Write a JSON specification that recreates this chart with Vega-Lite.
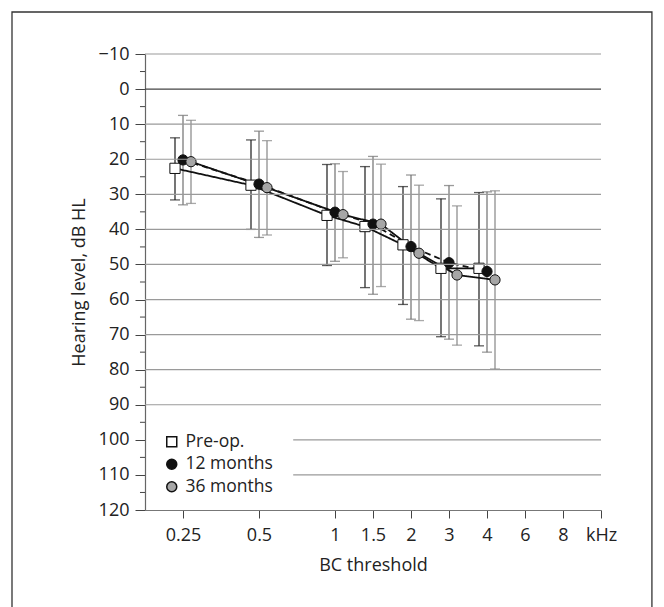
{
  "$schema": "https://vega.github.io/schema/vega-lite/v6.json",
  "autosize": {"type": "none"},
  "padding": {"left": 145, "top": 54, "right": 63, "bottom": 97},
  "width": 456,
  "height": 456,
  "background": "white",
  "config": {
    "view": {"stroke": null},
    "font": "Open Sans"
  },
  "resolve": {"scale": {"x": "independent"}},
  "layer": [
    {
      "data": {"values": [
        {"freq": "0.25", "group": "Pre-op.", "mean": 22.6, "lo": 13.9, "hi": 31.6},
        {"freq": "0.25", "group": "12 months", "mean": 20.2, "lo": 7.5, "hi": 33.0},
        {"freq": "0.25", "group": "36 months", "mean": 20.7, "lo": 8.9, "hi": 32.6},
        {"freq": "0.5", "group": "Pre-op.", "mean": 27.4, "lo": 14.5, "hi": 40.0},
        {"freq": "0.5", "group": "12 months", "mean": 27.1, "lo": 12.0, "hi": 42.3},
        {"freq": "0.5", "group": "36 months", "mean": 28.1, "lo": 14.7, "hi": 41.6},
        {"freq": "1", "group": "Pre-op.", "mean": 36.0, "lo": 21.5, "hi": 50.3},
        {"freq": "1", "group": "12 months", "mean": 35.1, "lo": 21.3, "hi": 49.1},
        {"freq": "1", "group": "36 months", "mean": 35.8, "lo": 23.5, "hi": 48.1},
        {"freq": "1.5", "group": "Pre-op.", "mean": 39.2, "lo": 22.1, "hi": 56.6},
        {"freq": "1.5", "group": "12 months", "mean": 38.5, "lo": 19.2, "hi": 58.5},
        {"freq": "1.5", "group": "36 months", "mean": 38.5, "lo": 21.4, "hi": 56.3},
        {"freq": "2", "group": "Pre-op.", "mean": 44.4, "lo": 27.8, "hi": 61.4},
        {"freq": "2", "group": "12 months", "mean": 44.9, "lo": 24.5, "hi": 65.6},
        {"freq": "2", "group": "36 months", "mean": 46.8, "lo": 27.4, "hi": 66.0},
        {"freq": "3", "group": "Pre-op.", "mean": 51.1, "lo": 31.3, "hi": 70.6},
        {"freq": "3", "group": "12 months", "mean": 49.5, "lo": 27.5, "hi": 71.3},
        {"freq": "3", "group": "36 months", "mean": 53.0, "lo": 33.3, "hi": 73.0},
        {"freq": "4", "group": "Pre-op.", "mean": 51.1, "lo": 29.5, "hi": 73.2},
        {"freq": "4", "group": "12 months", "mean": 52.0, "lo": 29.3, "hi": 75.0},
        {"freq": "4", "group": "36 months", "mean": 54.4, "lo": 29.0, "hi": 79.8}
      ]},
      "encoding": {
        "x": {"field": "freq", "type": "ordinal", "title": "BC threshold",
          "scale": {"type": "point", "domain": ["_0", "0.25", "_1", "0.5", "_2", "1", "1.5", "2", "3", "4", "6", "8", "kHz"], "padding": 0},
          "axis": {"values": ["0.25", "0.5", "1", "1.5", "2", "3", "4", "6", "8", "kHz"], "labelAngle": 0, "tickSize": 8, "labelPadding": 8,
            "grid": false, "domainColor": "#777", "domainWidth": 1.2, "tickColor": "#444", "tickWidth": 1,
            "labelFont": "Open Sans", "labelFontSize": 18, "labelColor": "#222",
            "titleFont": "Open Sans", "titleFontSize": 18, "titleColor": "#222", "titleFontWeight": "normal", "titlePadding": 12}},
        "xOffset": {"field": "group", "type": "nominal", "scale": {"type": "point", "domain": ["Pre-op.", "12 months", "36 months"], "range": [-8, 8], "padding": 0}}
      },
      "layer": [
        {
          "mark": {"type": "rule", "strokeWidth": 1.2},
          "encoding": {
            "y": {"field": "lo", "type": "quantitative", "title": "Hearing level, dB HL", "scale": {"domain": [-10, 120], "reverse": true, "nice": false, "zero": false},
              "axis": {"values": [-10, 0, 10, 20, 30, 40, 50, 60, 70, 80, 90, 100, 110, 120],
                "tickCount": 100,
                "labelOverlap": false,
                "tickSize": 10,
                "grid": false, "domainColor": "#666", "domainWidth": 1.2, "tickColor": "#444", "tickWidth": 1,
                "labelFont": "Open Sans", "labelFontSize": 18, "labelColor": "#222", "labelPadding": 6,
                "titleFont": "Open Sans", "titleFontSize": 18, "titleColor": "#222", "titleFontWeight": "normal", "titlePadding": 10}},
            "y2": {"field": "hi"},
            "color": {"field": "group", "type": "nominal", "legend": null, "scale": {"domain": ["12 months", "36 months", "Pre-op."], "range": ["#707070", "#858585", "#1a1a1a"]}}
          }
        },
        {
          "mark": {"type": "tick", "thickness": 1.3, "size": 10},
          "encoding": {
            "y": {"field": "lo", "type": "quantitative", "title": "Hearing level, dB HL"},
            "color": {"field": "group", "type": "nominal", "legend": null}
          }
        },
        {
          "mark": {"type": "tick", "thickness": 1.3, "size": 10},
          "encoding": {
            "y": {"field": "hi", "type": "quantitative", "title": "Hearing level, dB HL"},
            "color": {"field": "group", "type": "nominal", "legend": null}
          }
        },
        {
          "mark": {"type": "line", "color": "#111", "strokeWidth": 1.8},
          "encoding": {
            "y": {"field": "mean", "type": "quantitative", "title": "Hearing level, dB HL"},
            "detail": {"field": "group"},
            "strokeDash": {"field": "group", "type": "nominal", "legend": null, "scale": {"domain": ["36 months", "12 months", "Pre-op."], "range": [[1, 0], [6, 4], [1, 0]]}}
          }
        },
        {
          "mark": {"type": "point", "filled": true, "stroke": "#111", "strokeWidth": 1, "size": 105, "opacity": 1},
          "encoding": {
            "y": {"field": "mean", "type": "quantitative", "title": "Hearing level, dB HL"},
            "fill": {"field": "group", "type": "nominal", "title": null,
              "scale": {"domain": ["Pre-op.", "12 months", "36 months"], "range": ["#ffffff", "#111111", "#a6a6a6"]},
              "legend": {"orient": "none", "legendX": 18, "legendY": 379, "labelFont": "Open Sans", "labelFontSize": 17.5, "labelColor": "#222", "symbolSize": 100, "rowPadding": 3.5, "labelOffset": 5, "padding": 0,
                "encode": {"symbols": {"update": {"stroke": {"value": "#111"}, "strokeWidth": {"value": 1}}}}}},
            "shape": {"field": "group", "type": "nominal", "title": null,
              "scale": {"domain": ["Pre-op.", "12 months", "36 months"], "range": ["square", "circle", "circle"]},
              "legend": {"orient": "none", "legendX": 18, "legendY": 379, "labelFont": "Open Sans", "labelFontSize": 17.5, "labelColor": "#222", "symbolSize": 100, "rowPadding": 3.5, "labelOffset": 5, "padding": 0,
                "encode": {"symbols": {"update": {"stroke": {"value": "#111"}, "strokeWidth": {"value": 1}}}}}}
          }
        }
      ]
    },
    {
      "layer": [
        {
          "data": {"values": [{"level": -10}, {"level": 0}, {"level": 10}, {"level": 20}, {"level": 30}, {"level": 40}, {"level": 50}, {"level": 60}, {"level": 70}, {"level": 80}, {"level": 90}]},
          "mark": {"type": "rule", "strokeWidth": 1.2},
          "encoding": {
            "y": {"field": "level", "type": "quantitative", "title": "Hearing level, dB HL"},
            "color": {"condition": {"test": "datum.level === 0", "value": "#444"}, "value": "#9a9a9a"}
          }
        },
        {
          "data": {"values": [{"level": 100}, {"level": 110}]},
          "mark": {"type": "rule", "strokeWidth": 1.2, "color": "#9a9a9a"},
          "encoding": {
            "y": {"field": "level", "type": "quantitative", "title": "Hearing level, dB HL"},
            "x": {"datum": 3.9, "type": "quantitative", "scale": {"domain": [0, 12], "nice": false, "zero": false}, "axis": null},
            "x2": {"datum": 12}
          }
        },
        {
          "data": {"values": [{"level": -5}, {"level": 5}, {"level": 15}, {"level": 25}, {"level": 35}, {"level": 45}, {"level": 55}, {"level": 65}, {"level": 75}, {"level": 85}, {"level": 95}, {"level": 105}, {"level": 115}]},
          "mark": {"type": "rule", "strokeWidth": 1, "color": "#444", "clip": false},
          "encoding": {
            "y": {"field": "level", "type": "quantitative", "title": "Hearing level, dB HL"},
            "x": {"datum": -0.1316, "type": "quantitative", "scale": {"domain": [0, 12], "nice": false, "zero": false}, "axis": null},
            "x2": {"datum": 0}
          }
        },
        {
          "data": {"values": [{}]},
          "mark": {"type": "rect", "fill": null, "stroke": "#333", "strokeWidth": 1.3, "clip": false},
          "encoding": {
            "x": {"datum": -3.5, "type": "quantitative", "scale": {"domain": [0, 12], "nice": false, "zero": false}, "axis": null},
            "x2": {"datum": 13.34},
            "y": {"datum": -21.97, "type": "quantitative", "title": "Hearing level, dB HL"},
            "y2": {"datum": 160}
          }
        }
      ]
    }
  ]
}
